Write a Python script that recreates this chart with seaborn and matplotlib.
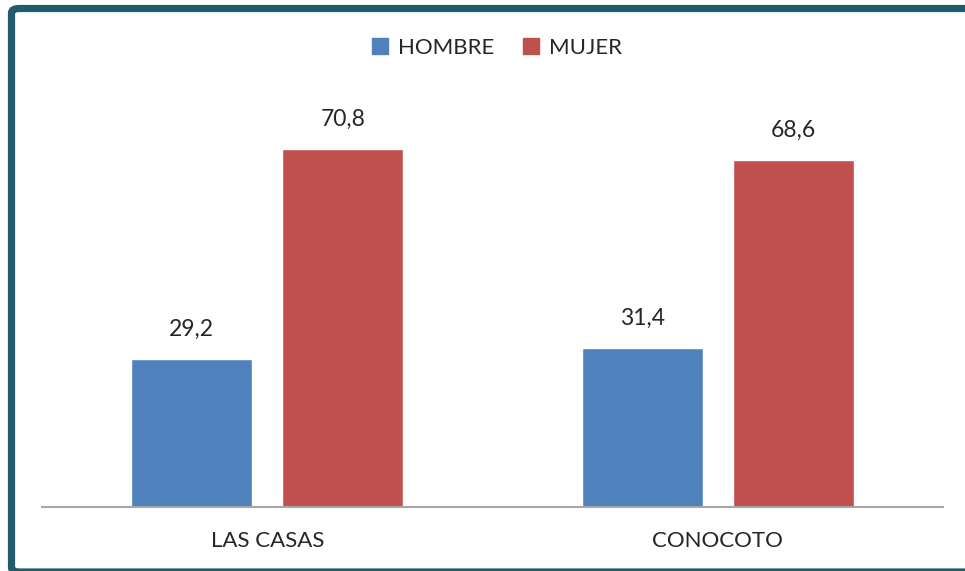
import pandas as pd
import seaborn as sns
import matplotlib.pyplot as plt
from matplotlib.patches import FancyBboxPatch, Rectangle

# data
lugares = ["LAS CASAS", "CONOCOTO"]
hombre = [29.2, 31.4]
mujer = [70.8, 68.6]
series = ["HOMBRE", "MUJER"]
colores = ["#4F81BD", "#C0504D"]

df = pd.DataFrame({
    "lugar": lugares * 2,
    "sexo": [series[0]] * 2 + [series[1]] * 2,
    "valor": hombre + mujer,
})

sns.set_style("white")
plt.rcParams["font.family"] = ["Lato", "DejaVu Sans"]

W, H = 965, 571
fig = plt.figure(figsize=(W / 100, H / 100), dpi=100)

# axes in pixel terms: x 42..943, baseline at 507, 80 units -> 404.5 px
ax = fig.add_axes([42 / W, (H - 507) / H, 901 / W, 404.5 / H])
sns.barplot(data=df, x="lugar", y="valor", hue="sexo", palette=colores,
            width=0.67, gap=0.2, ax=ax, legend=False, saturation=1)

ax.set_ylim(0, 80)
ax.set_xlim(-0.5, 1.5)
ax.set_xlabel("")
ax.set_ylabel("")
ax.set_yticks([])
ax.tick_params(axis="x", length=0, labelsize=16, pad=17)
for s in ["top", "right", "left"]:
    ax.spines[s].set_visible(False)
ax.spines["bottom"].set_color("#A6A6A6")
ax.spines["bottom"].set_linewidth(1.5)

for cont in ax.containers:
    ax.bar_label(cont, labels=[f"{v:.1f}".replace(".", ",") for v in cont.datavalues],
                 padding=14, fontsize=16.5)

# legend at the top centre
handles = [Rectangle((0, 0), 1, 1, color=c) for c in colores]
fig.legend(handles, series, loc="center", bbox_to_anchor=(497 / W, 1 - 48 / H),
           ncol=2, frameon=False, fontsize=16, handlelength=0.7,
           handleheight=0.7, handletextpad=0.45, columnspacing=1.3)

# dark teal frame, cut off on the right and at the bottom
frame = FancyBboxPatch((11.5 / W, -1 / H), 1.2, (H - 8.5) / H + 1 / H,
                       boxstyle="round,pad=0,rounding_size=0.008",
                       transform=fig.transFigure, fill=False,
                       edgecolor="#235B6A", linewidth=5.2)
fig.patches.append(frame)

fig.savefig("out.png", dpi=100)
